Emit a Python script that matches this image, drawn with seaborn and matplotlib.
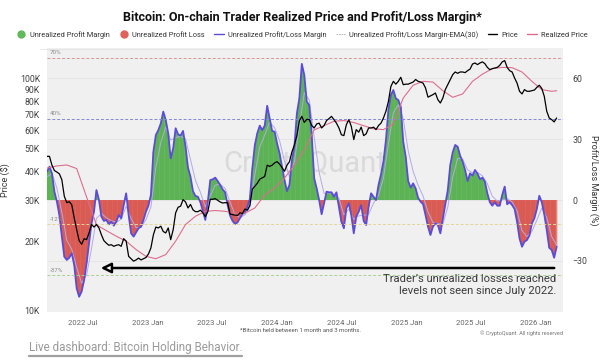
import matplotlib
matplotlib.use("Agg")
import matplotlib.pyplot as plt
import matplotlib.dates as mdates
import matplotlib.ticker as mticker
from matplotlib.lines import Line2D
from matplotlib.patches import FancyArrowPatch
import numpy as np
import pandas as pd
import seaborn as sns

# weekly values, starting 2022-03-21
margin_pct = [13.9, 16.4, 13.1, 4.1, -0.8, -7.4, -18, -27.9, -29.5, -28.4,
              -26.2, -32, -43.5, -47.6, -45, -39.4, -31.2, -21.3, -11.5, -5.7,
              4.9, 0, -8.2, -10.3, -9.8, -12, -10.7, -12.6, -10.7, -7.4,
              -9, -2.5, 3.3, -7.4, -16.4, -18, -15.9, -13.9, -13.1, -9.8,
              -5.7, -2.8, 2.5, 23.8, 32, 34.4, 37.7, 43.5, 39.4, 32.8,
              20.5, 25.4, 35.3, 32.3, 31.7, 34, 26.2, 15.9, 11.5, 4.4,
              2, 1.6, -1.1, -5.4, -9.8, -0.8, 9.8, 10.2, 11, 9.3,
              7.4, 5.2, 3.8, -2.5, -7.7, -10.3, -11.8, -11, -9, -6.9,
              -6.2, -3.3, 0.5, 15.6, 27, 32.8, 36.6, 34.4, 36.6, 46.4,
              40.2, 34, 33.6, 27.9, 23, 16.4, 9.8, 4.4, 7.4, 19.7,
              26.2, 42.6, 50, 67, 61.5, 48.4, 46.7, 32, 10.7, 5.7,
              0, -7, -1.6, 4.1, 3.8, 3.8, 1.6, 3.8, -3.3, -10.7,
              -13.9, -4.1, -1.6, -7.4, -16.4, -8.2, -5.7, -2.5, -10.3, -12.3,
              -3.3, 3.3, 1.6, 0, 7.4, 12.6, 18.9, 29.5, 44.3, 51.7,
              54.1, 50, 49.2, 45.9, 28.7, 21.3, 9.3, 6.1, 8.2, 5.7,
              1.1, -0.8, -2, -7.4, -13.1, -17.2, -13.1, -11.5, -12.3, -16.4,
              -9.3, -2.5, 4.9, 17.2, 23.5, 27.1, 26.2, 21.8, 18.9, 14.8,
              9.3, 13.1, 12, 14.8, 13, 10.3, 11, 9, 3.3, -1.1,
              -2.8, -1.1, -2.8, -2.8, 2.5, 6.6, -2.1, -1.1, -2.5, -4.4,
              -10.7, -18.9, -23, -20.5, -19.7, -17.5, -11.5, -9, -4.4, 2.1,
              -1.1, -7, -14.8, -23.5, -24.6, -28.4, -23]

price_k = [46.4, 46.4, 42.5, 40.3, 39.7, 39, 36.8, 31.2, 29.3, 29.6,
           28.7, 25.2, 22.4, 20.1, 19.4, 20.5, 20.3, 21.7, 23.6, 23,
           23.6, 22.8, 21.3, 20.1, 19.6, 19.2, 19.3, 19, 19.2, 19.3,
           19, 20.5, 20, 17.2, 16.8, 16.4, 16.6, 16.9, 16.6, 16.8,
           17, 17.6, 18.7, 21.3, 23, 22.8, 23.2, 22, 21.7, 22.8,
           20.3, 22.4, 26.5, 28, 28.3, 30.2, 29.5, 27.8, 28.8, 27.3,
           26.8, 26.8, 27.2, 26.5, 25.5, 26.8, 30.3, 30.3, 30.5, 30,
           29.5, 29.2, 29.3, 29.3, 26.2, 26, 25.9, 25.8, 26.5, 26.3,
           27.5, 27.2, 28.5, 33.5, 34.5, 35.5, 37, 37.5, 38, 42.5,
           42, 42.5, 43.5, 44, 43, 41.5, 40, 42.5, 44, 48.5,
           52, 57, 66, 69, 65, 67, 66.8, 63, 61.5, 64,
           64.5, 61.5, 63, 66.2, 67.5, 69, 66.8, 64.5, 61.5, 57.5,
           57, 63.5, 66.8, 62.5, 54.8, 60.5, 59, 62, 57, 58,
           61.5, 61.5, 62, 60.5, 63, 64.5, 67.9, 72.6, 80, 92.9,
           97.7, 95, 97.7, 101.7, 94.5, 95, 95, 96, 97, 99.5,
           97.7, 97, 96, 91.5, 83.5, 84.5, 85.6, 87, 81.4, 78.8,
           82.8, 90, 94.5, 99, 104.4, 107.2, 105.8, 107.2, 107.2, 106.5,
           108.6, 110.3, 116, 117.2, 115.3, 117.2, 118.5, 116.4, 112.2, 109.7,
           110.8, 111.5, 112.2, 114.5, 118.5, 120, 112.2, 108.6, 107.2, 101,
           96, 88.5, 86.2, 90, 88.5, 88.5, 89, 89.6, 92, 94,
           91, 84.2, 72.6, 67.9, 66.8, 65.3, 67.9]

# realized price, every 4th week (plus the last week)
realized_week_idx = list(range(0, 205, 4)) + [206]
realized_k = [41.3, 42.2, 42.6, 41.1, 31, 23.5, 22.2, 21, 20, 18.4,
              17.2, 16.8, 17.5, 20, 23.6, 25.6, 26.9, 27.1, 26.9, 26.4,
              26.4, 27.8, 31.6, 33.9, 37.4, 42.6, 49.5, 60.3, 63, 65.7,
              66.2, 64.9, 62.9, 61, 60.5, 64, 82.8, 94, 97.7, 97,
              89, 83.4, 86.2, 97.7, 104.9, 110.8, 112.2, 111.9, 107.2, 97.7,
              90, 88.5, 89]

# EMA(30) of the margin, every 2nd week
ema_pct = [11.4, 13.2, 5.9, -6.0, -19.8, -24.2, -33.2, -40.9, -36.9, -23.8,
           -9.0, -6.6, -8.7, -10.2, -11.0, -9.4, -3.1, -9.0, -13.6, -13.5,
           -9.7, -3.5, 16.0, 28.3, 35.9, 29.5, 30.7, 31.4, 30.1, 19.9,
           9.7, 3.8, -3.4, 2.1, 7.3, 7.8, 5.7, -1.1, -7.2, -8.7,
           -7.3, -3.5, 12.3, 26.1, 31.9, 38.4, 35.6, 29.2, 19.1, 11.4,
           18.8, 35.9, 52.8, 49.3, 31.0, 13.6, 3.2, 3.6, 2.9, 0.8,
           -7.3, -4.4, -9.5, -7.8, -7.5, -7.1, -1.5, 2.2, 10.8, 27.5,
           43.0, 46.9, 39.9, 24.2, 14.1, 7.3, 2.0, -5.8, -11.1, -11.7,
           -11.9, -3.5, 11.3, 20.5, 20.2, 14.9, 13.4, 13.6, 11.9, 8.0,
           1.9, -0.5, 0.0, 0.7, -0.9, -5.3, -15.0, -18.0, -15.5, -9.9,
           -3.9, -8.6, -18.0, -22.2]

ref_levels = [70, 40, -12, -37]
ref_labels = ["70%", "40%", "-12%", "-37%"]
ref_colors = ["#d99595", "#8585df", "#e3d49a", "#a9cf98"]

price_ticks = [10000, 20000, 30000, 40000, 50000, 60000, 70000, 80000, 90000, 100000]
price_tick_labels = ["10K", "20K", "30K", "40K", "50K", "60K", "70K", "80K", "90K", "100K"]
margin_ticks = [-30, 0, 30, 60]

GREEN = "#62b95a"
RED = "#df6159"
BLUE = "#5a4cd8"
EMA_C = "#b3aae6"
PINK = "#dd6d8e"

sns.set_theme(style="white")
plt.rcParams["font.family"] = ["Roboto", "DejaVu Sans"]

weeks = pd.date_range("2022-03-21", periods=len(margin_pct), freq="7D")
margin = np.array(margin_pct)
price = np.array(price_k) * 1000
realized_dates = weeks[realized_week_idx]
realized = np.array(realized_k) * 1000
ema_dates = weeks[::2]

fig = plt.figure(figsize=(6.04, 3.63), dpi=100)
ax = fig.add_axes([47 / 604, 1 - 312 / 363, 516 / 604, 264 / 363])
ax.set_facecolor("#f0f0f0")

# margin (back layer)
pos = margin >= 0
ax.fill_between(weeks, margin, 0, where=pos, interpolate=True, color=GREEN, lw=0)
ax.fill_between(weeks, margin, 0, where=~pos, interpolate=True, color=RED, lw=0)
ax.vlines(weeks[pos], 0, margin[pos], colors="#4f9c48", lw=0.3)
ax.vlines(weeks[~pos], 0, margin[~pos], colors="#c04c45", lw=0.3)
sns.lineplot(x=ema_dates, y=ema_pct, ax=ax, color=EMA_C, lw=0.7, legend=False)
sns.lineplot(x=weeks, y=margin, ax=ax, color=BLUE, lw=1.3, legend=False)

for lvl, lab, col in zip(ref_levels, ref_labels, ref_colors):
    ax.axhline(lvl, color=col, lw=0.7, ls=(0, (3, 2)))
    ax.text(pd.Timestamp("2022-03-28"), lvl + 1.2, lab, fontsize=4.5, color="#8a8a8a", va="bottom")

ax.set_ylim(-55.1, 74.8)
ax.set_yticks(margin_ticks)
ax.grid(axis="y", color="#e3e3e3", lw=0.6)
ax.grid(axis="x", visible=False)

# price (front layer)
ax2 = ax.twinx()
ax2.set_yscale("log")
sns.lineplot(x=realized_dates, y=realized, ax=ax2, color=PINK, lw=0.8, legend=False)
sns.lineplot(x=weeks, y=price, ax=ax2, color="black", lw=0.9, legend=False)
ax2.set_ylim(9900, 136000)
ax2.yaxis.set_major_locator(mticker.FixedLocator(price_ticks))
ax2.yaxis.set_minor_locator(mticker.NullLocator())
ax2.set_yticklabels(price_tick_labels)

# twinx moves the first axis ticks to the left, so swap sides afterwards
ax.yaxis.tick_right()
ax.yaxis.set_label_position("right")
ax.set_ylabel("Profit/Loss Margin (%)", rotation=270, fontsize=6.5, color="#333333", labelpad=8)
ax2.yaxis.tick_left()
ax2.yaxis.set_label_position("left")
ax2.set_ylabel("Price ($)", fontsize=6.5, color="#333333", labelpad=6)

ax.set_xlim(pd.Timestamp("2022-03-21"), pd.Timestamp("2026-03-20"))
ax.xaxis.set_major_locator(mdates.MonthLocator(bymonth=[1, 7]))
ax.xaxis.set_major_formatter(mdates.DateFormatter("%Y %b"))
ax.set_xlabel("")

for a in (ax, ax2):
    a.tick_params(axis="both", length=0, labelsize=6.3, labelcolor="#444444", pad=5)
    for s in a.spines.values():
        s.set_visible(False)
ax.tick_params(axis="y", pad=7)
ax.tick_params(axis="x", labelsize=5.5, labelcolor="#666666", pad=6)

# watermark
ax.text(0.5, 0.56, "CryptoQuant", transform=ax.transAxes, ha="center", va="center",
        fontsize=21, color="#c8c8c8", alpha=0.55, zorder=0.5)

# arrow and note
y_arr = 1 - 268 / 363
fig.patches.append(FancyArrowPatch((557 / 604, y_arr), (98 / 604, y_arr), transform=fig.transFigure,
                                   arrowstyle="-|>,head_length=6,head_width=3", fc="white", ec="black",
                                   lw=1.8, mutation_scale=1))
fig.text(556 / 604, 1 - 285 / 363, "Trader\u2019s unrealized losses reached\nlevels not seen since July 2022.",
         ha="right", va="center", fontsize=8.1, color="#3a3a3a", linespacing=1.15)

# title and legend
fig.text(0.5, 1 - 18 / 363, "Bitcoin: On-chain Trader Realized Price and Profit/Loss Margin*",
         ha="center", va="center", fontsize=9, fontweight="bold", color="#111111")
handles = [
    Line2D([], [], marker="o", ls="", color=GREEN, markersize=5),
    Line2D([], [], marker="o", ls="", color=RED, markersize=5),
    Line2D([], [], color=BLUE, lw=1),
    Line2D([], [], color="#aaaaaa", lw=0.6, ls=(0, (2, 1))),
    Line2D([], [], color="black", lw=1),
    Line2D([], [], color=PINK, lw=1),
]
labels = ["Unrealized Profit Margin", "Unrealized Profit Loss", "Unrealized Profit/Loss Margin",
          "Unrealized Profit/Loss Margin-EMA(30)", "Price", "Realized Price"]
fig.legend(handles, labels, loc="center", bbox_to_anchor=(0.5, 1 - 35 / 363), ncol=6, frameon=False,
           fontsize=5.3, handlelength=1.3, handletextpad=0.5, columnspacing=1.3, labelcolor="#333333")
fig.add_artist(Line2D([40 / 604, 487 / 604], [1 - 49 / 363] * 2, color="#e4e4e4", lw=0.6))

# footer
fig.text(300 / 604, 1 - 331 / 363, "*Bitcoin held between 1 month and 3 months.", ha="center", va="center",
         fontsize=4.3, color="#555555")
fig.text(563 / 604, 1 - 333 / 363, "\u00a9 CryptoQuant. All rights reserved", ha="right", va="center",
         fontsize=4, color="#777777")
fig.text(29 / 604, 1 - 347 / 363, "Live dashboard: Bitcoin Holding Behavior.", ha="left", va="center",
         fontsize=8.4, color="#9a9a9a")
fig.add_artist(Line2D([29 / 604, 242 / 604], [1 - 356 / 363] * 2, color="#a0a0a0", lw=1.6))

fig.savefig("out.png", dpi=100)
